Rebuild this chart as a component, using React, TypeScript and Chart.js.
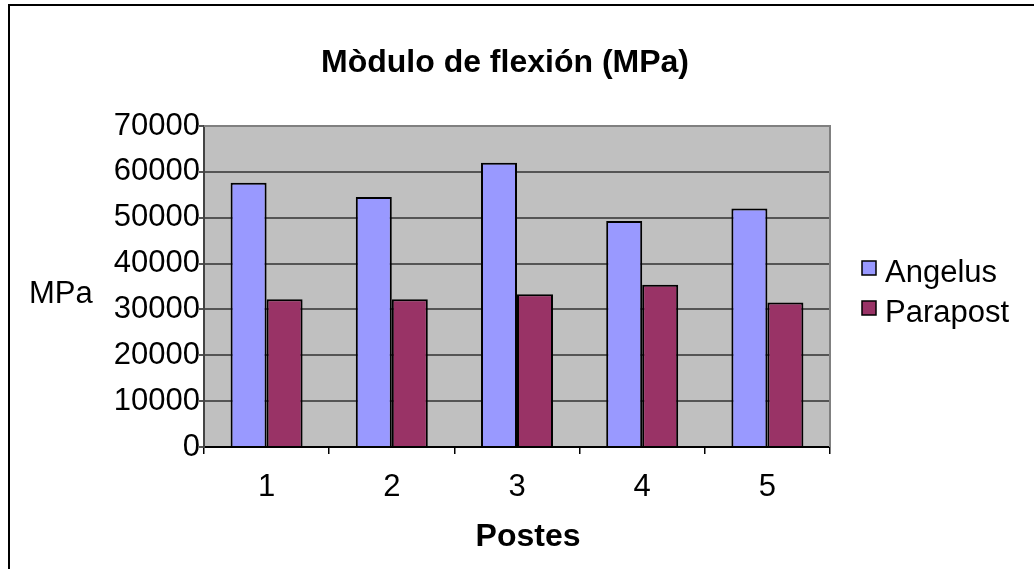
import React, { useEffect, useRef } from "react";
import { Chart, registerables } from "chart.js";

Chart.register(...registerables);

const categories = ["1", "2", "3", "4", "5"];
const angelus = [57600, 54500, 62000, 49300, 52000];
const parapost = [32200, 32200, 33300, 35400, 31500];
const seriesNames = ["Angelus", "Parapost"];
const seriesColors = ["#9999FF", "#993366"];
const chartTitle = "Mòdulo de flexión (MPa)";
const xTitle = "Postes";
const yTitle = "MPa";
const yMin = 0;
const yMax = 70000;
const yStep = 10000;

const FONT = '"Liberation Sans", Arial, Helvetica, sans-serif';

const decor = {
  id: "decor",
  beforeDraw(chart: any) {
    const { ctx, chartArea: a } = chart;
    ctx.save();
    ctx.fillStyle = "#C0C0C0";
    ctx.fillRect(a.left, a.top, a.right - a.left, a.bottom - a.top);
    ctx.restore();
  },
  afterDraw(chart: any) {
    const { ctx, chartArea: a } = chart;
    ctx.save();
    ctx.strokeStyle = "#808080";
    ctx.lineWidth = 2;
    ctx.beginPath();
    ctx.moveTo(a.left, a.top);
    ctx.lineTo(a.right, a.top);
    ctx.lineTo(a.right, a.bottom);
    ctx.stroke();

    ctx.fillStyle = "#000";
    ctx.textBaseline = "alphabetic";
    ctx.font = `bold 32px ${FONT}`;
    ctx.textAlign = "center";
    ctx.fillText(chartTitle, 505, 72);
    ctx.fillText(xTitle, 528, 546);

    ctx.font = `31px ${FONT}`;
    ctx.textAlign = "left";
    ctx.fillText(yTitle, 29, 303);

    chart.data.datasets.forEach((ds: any, i: number) => {
      const by = 261 + i * 40;
      ctx.fillStyle = ds.backgroundColor;
      ctx.fillRect(862, by, 14, 14);
      ctx.strokeStyle = "#000";
      ctx.lineWidth = 1.5;
      ctx.strokeRect(862, by, 14, 14);
      ctx.fillStyle = "#000";
      ctx.fillText(ds.label, 885, 282 + i * 40);
    });
    ctx.restore();
  },
};

export default function App() {
  const ref = useRef<HTMLCanvasElement | null>(null);

  useEffect(() => {
    if (!ref.current) return;
    const chart = new Chart(ref.current, {
      type: "bar",
      data: {
        labels: categories,
        datasets: [
          {
            label: seriesNames[0],
            data: angelus,
            backgroundColor: seriesColors[0],
            borderColor: "#000",
            borderWidth: 2,
            categoryPercentage: 0.575,
            barPercentage: 1,
          },
          {
            label: seriesNames[1],
            data: parapost,
            backgroundColor: seriesColors[1],
            borderColor: "#000",
            borderWidth: 2,
            categoryPercentage: 0.575,
            barPercentage: 1,
          },
        ],
      },
      options: {
        responsive: false,
        animation: false,
        devicePixelRatio: 1,
        layout: { padding: { left: 0, top: 126, right: 204, bottom: 0 } },
        plugins: {
          legend: { display: false },
          title: { display: false },
          tooltip: { enabled: false },
        },
        scales: {
          x: {
            offset: true,
            ticks: {
              color: "#000",
              font: { family: FONT, size: 31 },
              padding: 15,
              maxRotation: 0,
            },
            grid: {
              offset: true,
              drawOnChartArea: false,
              drawTicks: true,
              tickLength: 7,
              color: "#000",
              lineWidth: 1.5,
            },
            border: { color: "#000", width: 2 },
            afterFit: (s: any) => {
              s.height = 122;
            },
          },
          y: {
            min: yMin,
            max: yMax,
            ticks: {
              stepSize: yStep,
              color: "#000",
              font: { family: FONT, size: 31 },
              padding: -1,
              callback: (v: any) => String(v),
            },
            grid: {
              color: (c: any) => (c.tick && c.tick.value === yMax ? "#808080" : "#555555"),
              lineWidth: 2,
              tickLength: 5,
              tickColor: "#555555",
              drawTicks: true,
            },
            border: { color: "#444", width: 2 },
            afterFit: (s: any) => {
              s.width = 204;
            },
          },
        },
      },
      plugins: [decor],
    });
    return () => chart.destroy();
  }, []);

  return (
    <div
      style={{
        position: "fixed",
        left: 0,
        top: 0,
        width: 1034,
        height: 569,
        overflow: "hidden",
        background: "#fff",
      }}
    >
      <div
        style={{
          position: "absolute",
          left: 8,
          top: 4,
          width: 1200,
          height: 800,
          border: "2px solid #000",
          boxSizing: "border-box",
        }}
      />
      <canvas
        ref={ref}
        width={1034}
        height={569}
        style={{ position: "absolute", left: 0, top: 0, width: 1034, height: 569 }}
      />
    </div>
  );
}
